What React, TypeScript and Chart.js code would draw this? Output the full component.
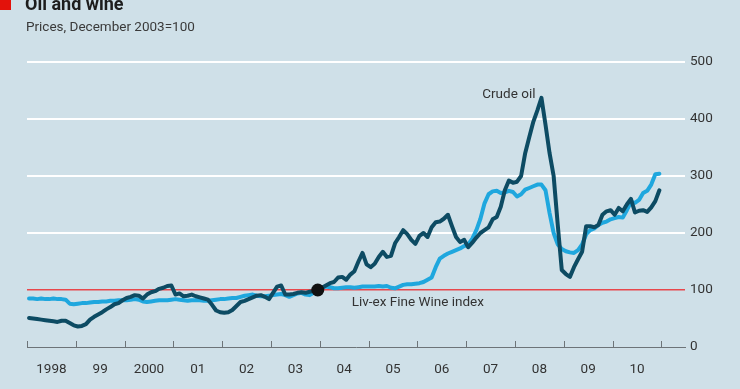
import React, { useEffect, useRef } from 'react';
import { Chart, registerables } from 'chart.js';

Chart.register(...registerables);

// Year labels (one per calendar year, Jan 1998 .. Dec 2010)
const yearLabels = ['1998', '99', '2000', '01', '02', '03', '04', '05', '06', '07', '08', '09', '10'];

// Monthly prices, December 2003 = 100, Jan 1998 .. Dec 2010
const oilPrices = [
  51, 50, 49, 48, 47, 46, 45, 44, 46, 46, 42, 38,
  36, 37, 40, 48, 53, 57, 61, 66, 70, 75, 77, 82,
  86, 88, 91, 90, 85, 92, 96, 98, 102, 104, 107, 108,
  92, 94, 89, 90, 92, 89, 87, 85, 83, 74, 64, 61,
  60, 61, 65, 72, 79, 81, 84, 87, 90, 91, 88, 84,
  95, 106, 108, 92, 92, 93, 95, 96, 95, 97, 98, 100,
  104, 108, 112, 114, 122, 123, 118, 127, 133, 150, 165, 145,
  140, 146, 158, 167, 158, 160, 182, 193, 205, 198, 188, 181,
  195, 200, 193, 210, 219, 220, 225, 232, 212, 193, 184, 188,
  175, 183, 192, 200, 205, 210, 224, 228, 246, 275, 292, 288,
  290, 300, 340, 368, 395, 415, 437, 390, 340, 300, 215, 135,
  128, 123, 140, 154, 167, 212, 212, 210, 214, 232, 238, 240,
  232, 244, 238, 250, 260, 236, 239, 240, 237, 245, 256, 275,
];

const winePrices = [
  85, 85, 84, 85, 84, 84, 85, 84, 84, 83, 76, 75,
  76, 77, 77, 78, 79, 79, 80, 80, 81, 81, 82, 82,
  82, 83, 84, 83, 80, 79, 80, 81, 82, 82, 82, 83,
  84, 83, 82, 81, 82, 82, 82, 81, 81, 82, 83, 84,
  84, 85, 86, 86, 88, 90, 91, 92, 90, 89, 89, 90,
  91, 92, 93, 91, 88, 91, 94, 95, 92, 91, 95, 100,
  104, 106, 105, 103, 103, 104, 105, 105, 104, 105, 106, 106,
  106, 106, 107, 106, 107, 104, 103, 106, 109, 110, 110, 111,
  112, 114, 118, 122, 140, 155, 160, 164, 167, 170, 173, 177,
  180, 190, 205, 225, 252, 268, 273, 274, 270, 271, 274, 272,
  264, 268, 276, 279, 282, 285, 285, 275, 235, 200, 180, 172,
  168, 166, 165, 170, 180, 198, 205, 208, 214, 218, 220, 224,
  226, 228, 227, 240, 254, 253, 258, 270, 274, 285, 303, 304,
];

const yTickValues = [0, 100, 200, 300, 400, 500];
const baseMonthIndex = 71; // December 2003
const baseValue = 100;
const oilPeakIndex = 126;

const BG = '#cfe0e8';
const OIL = '#0d4b63';
const WINE = '#1fa7de';
const RED = '#e3120b';
const FONT = 'Roboto, "Noto Sans", sans-serif';

export default function App() {
  const ref = useRef<HTMLCanvasElement>(null);

  useEffect(() => {
    document.body.style.margin = '0';
    const canvas = ref.current!;

    const decor = {
      id: 'decor',
      beforeDraw(chart: any) {
        const { ctx } = chart;
        ctx.save();
        ctx.fillStyle = BG;
        ctx.fillRect(0, 0, chart.width, chart.height);
        ctx.fillStyle = RED;
        ctx.fillRect(0, 0, 11, 10);
        ctx.fillStyle = '#1d1d1d';
        ctx.textBaseline = 'alphabetic';
        ctx.textAlign = 'left';
        ctx.font = `bold 18px ${FONT}`;
        ctx.fillText('Oil and wine', 25, 10);
        ctx.fillStyle = '#3a3a3a';
        ctx.font = `13.5px ${FONT}`;
        ctx.fillText('Prices, December 2003=100', 26, 31);
        ctx.restore();
      },
      afterDraw(chart: any) {
        const { ctx, chartArea } = chart;
        const xs = chart.scales.x;
        const ys = chart.scales.y;
        ctx.save();
        // upward tick marks at year boundaries
        ctx.strokeStyle = '#6d7478';
        ctx.lineWidth = 1;
        for (let i = 0; i <= yearLabels.length; i++) {
          const px = Math.round(xs.getPixelForValue(i * 12)) + 0.5;
          ctx.beginPath();
          ctx.moveTo(px, chartArea.bottom);
          ctx.lineTo(px, chartArea.bottom - 6);
          ctx.stroke();
        }
        // labels
        ctx.fillStyle = '#333';
        ctx.font = `13.5px ${FONT}`;
        ctx.textBaseline = 'alphabetic';
        const peakX = xs.getPixelForValue(oilPeakIndex + 0.5);
        const peakY = ys.getPixelForValue(oilPrices[oilPeakIndex]);
        ctx.textAlign = 'right';
        ctx.fillText('Crude oil', peakX - 6, peakY);
        const bx = xs.getPixelForValue(baseMonthIndex + 0.5);
        const by = ys.getPixelForValue(baseValue);
        ctx.textAlign = 'left';
        ctx.fillText('Liv-ex Fine Wine index', bx + 34, by + 16);
        ctx.restore();
      },
    };

    const toPoints = (arr: number[]) => arr.map((v, i) => ({ x: i + 0.5, y: v }));

    const chart = new Chart(canvas, {
      type: 'line',
      data: {
        datasets: [
          {
            label: 'base',
            data: [{ x: baseMonthIndex + 0.5, y: baseValue }],
            showLine: false,
            pointRadius: 6.5,
            pointBackgroundColor: '#111111',
            pointBorderWidth: 0,
            order: 0,
          },
          {
            label: 'Crude oil',
            data: toPoints(oilPrices),
            borderColor: OIL,
            borderWidth: 4,
            pointRadius: 0,
            tension: 0,
            borderJoinStyle: 'round',
            borderCapStyle: 'round',
            order: 1,
          },
          {
            label: 'Liv-ex Fine Wine index',
            data: toPoints(winePrices),
            borderColor: WINE,
            borderWidth: 4,
            pointRadius: 0,
            tension: 0,
            borderJoinStyle: 'round',
            borderCapStyle: 'round',
            order: 2,
          },
        ],
      } as any,
      options: {
        responsive: false,
        animation: false,
        layout: { padding: { left: 27, top: 62, right: 0, bottom: 0 } },
        plugins: { legend: { display: false }, tooltip: { enabled: false } },
        scales: {
          x: {
            type: 'linear',
            min: 0,
            max: 161.8,
            afterBuildTicks: (s: any) => {
              s.ticks = yearLabels.map((_, i) => ({ value: i * 12 + 6 }));
            },
            afterFit: (s: any) => {
              s.height = 42;
            },
            grid: { display: true, drawOnChartArea: false, drawTicks: false },
            border: { display: true, color: '#6d7478', width: 1 },
            ticks: {
              autoSkip: false,
              maxRotation: 0,
              padding: 15,
              color: '#333333',
              font: { family: FONT, size: 13.5 },
              callback: (_v: any, i: number) => yearLabels[i],
            },
          },
          y: {
            position: 'right',
            min: 0,
            max: 500,
            afterBuildTicks: (s: any) => {
              s.ticks = yTickValues.map((v) => ({ value: v }));
            },
            afterFit: (s: any) => {
              s.width = 55;
            },
            grid: {
              drawTicks: false,
              color: (c: any) =>
                c.tick && c.tick.value === 0 ? 'rgba(0,0,0,0)' : c.tick && c.tick.value === 100 ? '#e8474c' : '#ffffff',
              lineWidth: (c: any) => (c.tick && c.tick.value === 100 ? 1.5 : 2),
            },
            border: { display: false },
            ticks: {
              padding: 5,
              color: '#333333',
              font: { family: FONT, size: 13.5 },
            },
          },
        },
      } as any,
      plugins: [decor],
    });

    return () => chart.destroy();
  }, []);

  return (
    <div style={{ position: 'absolute', left: 0, top: 0, width: 740, height: 389 }}>
      <canvas ref={ref} width={740} height={389} style={{ display: 'block' }} />
    </div>
  );
}
